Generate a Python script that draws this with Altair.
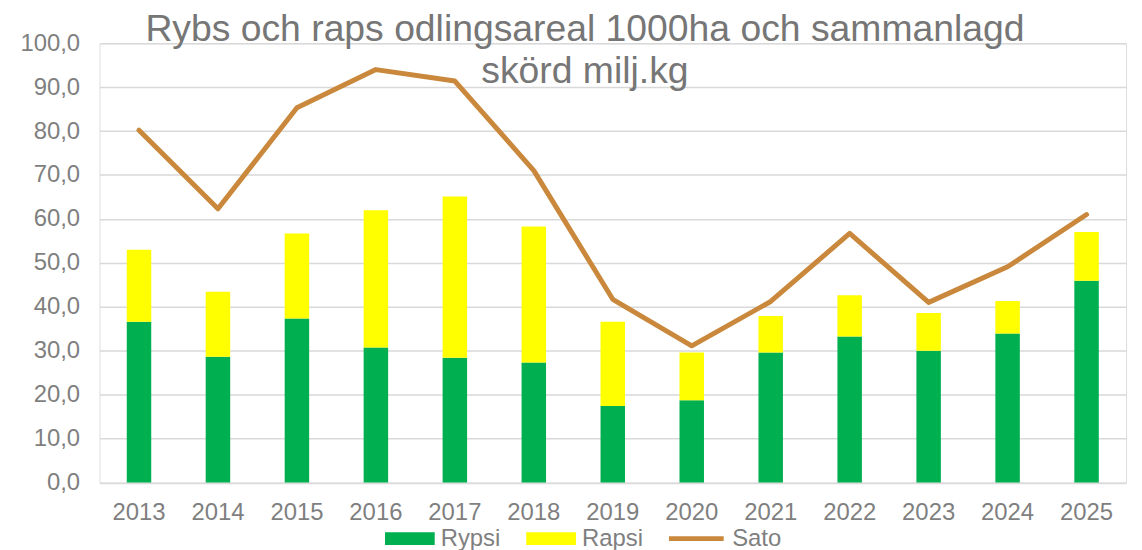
import altair as alt
import pandas as pd

years = ["2013", "2014", "2015", "2016", "2017", "2018", "2019",
         "2020", "2021", "2022", "2023", "2024", "2025"]
rypsi = [36.6, 28.6, 37.3, 30.7, 28.4, 27.3, 17.4, 18.7, 29.6, 33.2, 30.0, 33.9, 45.9]
rapsi = [16.4, 14.8, 19.4, 31.3, 36.7, 31.0, 19.2, 10.9, 8.3, 9.4, 8.6, 7.4, 11.1]
sato = [80.2, 62.3, 85.3, 94.0, 91.4, 71.0, 41.7, 31.1, 41.2, 56.7, 41.0, 49.1, 61.0]

series_names = ["Rypsi", "Rapsi"]
bar_colors = ["#00B050", "#FFFF00"]
line_name = "Sato"
line_color = "#C9883B"
title_lines = ["Rybs och raps odlingsareal 1000ha och sammanlagd", "skörd milj.kg"]

rows = []
for i, y in enumerate(years):
    rows.append({"year": y, "series": "Rypsi", "value": rypsi[i], "ord": 0})
    rows.append({"year": y, "series": "Rapsi", "value": rapsi[i], "ord": 1})
bars_df = pd.DataFrame(rows)
line_df = pd.DataFrame({"year": years, "value": sato, "series": [line_name] * len(years)})

FONT = "Liberation Sans"
GRAY = "#7F7F7F"

xenc = alt.X("year:N", sort=years, title=None,
             scale=alt.Scale(paddingInner=0.69, paddingOuter=0.345),
             axis=alt.Axis(labelAngle=0, labelFontSize=24, labelFont=FONT,
                           labelColor=GRAY, ticks=False, domain=False,
                           labelPadding=18, grid=False))

bars = alt.Chart(bars_df).mark_bar().encode(
    x=xenc,
    y=alt.Y("sum(value):Q", title=None, stack="zero",
            scale=alt.Scale(domain=[0, 100], nice=False),
            axis=alt.Axis(values=list(range(0, 101, 10)), labelFontSize=24,
                          labelFont=FONT, labelColor=GRAY, ticks=False,
                          domain=False, labelPadding=20, grid=True,
                          gridColor="#D9D9D9", gridWidth=1.5,
                          labelExpr="replace(format(datum.value, '.1f'), '.', ',')")),
    color=alt.Color("series:N", scale=alt.Scale(domain=series_names, range=bar_colors),
                    legend=alt.Legend(orient="none", legendX=287, legendY=473,
                                      direction="horizontal", title=None,
                                      symbolType="M-1,-0.26H1V0.26H-1Z",
                                      symbolSize=2500, symbolStrokeWidth=0,
                                      labelFontSize=24, labelFont=FONT,
                                      labelColor=GRAY, labelOffset=6,
                                      columnPadding=25, padding=0)),
    order=alt.Order("ord:Q"),
)

line = alt.Chart(line_df).mark_line(strokeWidth=5, strokeCap="round",
                                    strokeJoin="round").encode(
    x=alt.X("year:N", sort=years),
    y=alt.Y("value:Q"),
    stroke=alt.Stroke("series:N", scale=alt.Scale(domain=[line_name], range=[line_color]),
                      legend=alt.Legend(orient="none", legendX=570, legendY=468,
                                        title=None, symbolType="stroke",
                                        symbolSize=3025, symbolStrokeWidth=5,
                                        labelFontSize=24, labelFont=FONT,
                                        labelColor=GRAY, labelOffset=6, padding=0)),
)

chart = alt.layer(bars, line).properties(
    width=1032, height=441.5,
    padding={"left": 92, "top": 34, "right": 8, "bottom": 66},
    autosize=alt.AutoSizeParams(type="none"),
    title=alt.TitleParams(text=title_lines, fontSize=37.5, font=FONT,
                          fontWeight="normal", color="#767676",
                          anchor="middle", frame="group", baseline="alphabetic",
                          offset=-89, lineHeight=42, dx=-28),
).configure_view(stroke=None).configure(background="white")

chart.save("out.html", embed_options={"renderer": "svg", "actions": False})
